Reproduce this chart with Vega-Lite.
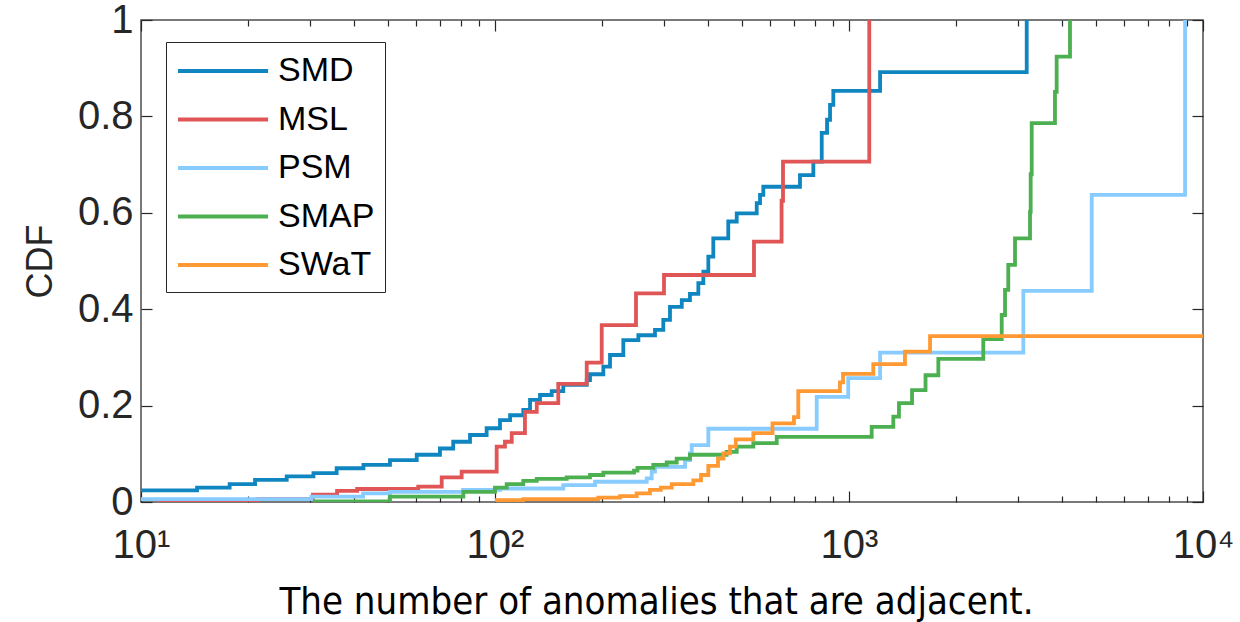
{
  "$schema": "https://vega.github.io/schema/vega-lite/v6.json",
  "width": 1062,
  "height": 482,
  "autosize": {"type": "none"},
  "padding": {"left": 141, "top": 20, "right": 37, "bottom": 120},
  "background": "white",
  "data": {"values": [
    {"s":"SMD","n":10,"c":0.024},{"s":"SMD","n":14.4,"c":0.030},{"s":"SMD","n":17.8,"c":0.037},{"s":"SMD","n":21,"c":0.046},{"s":"SMD","n":25.8,"c":0.053},{"s":"SMD","n":30.7,"c":0.060},{"s":"SMD","n":35.7,"c":0.070},{"s":"SMD","n":42.5,"c":0.077},{"s":"SMD","n":50.5,"c":0.087},{"s":"SMD","n":60.1,"c":0.098},{"s":"SMD","n":69.9,"c":0.111},{"s":"SMD","n":76.2,"c":0.125},{"s":"SMD","n":85,"c":0.139},{"s":"SMD","n":94.7,"c":0.153},{"s":"SMD","n":103.3,"c":0.170},{"s":"SMD","n":110.3,"c":0.180},{"s":"SMD","n":120.2,"c":0.191},{"s":"SMD","n":125.6,"c":0.212},{"s":"SMD","n":134,"c":0.222},{"s":"SMD","n":144.6,"c":0.230},{"s":"SMD","n":155.9,"c":0.243},{"s":"SMD","n":181.6,"c":0.253},{"s":"SMD","n":185.5,"c":0.265},{"s":"SMD","n":202.3,"c":0.281},{"s":"SMD","n":211.3,"c":0.305},{"s":"SMD","n":230.4,"c":0.336},{"s":"SMD","n":254.1,"c":0.346},{"s":"SMD","n":283.1,"c":0.357},{"s":"SMD","n":298.8,"c":0.378},{"s":"SMD","n":312.1,"c":0.405},{"s":"SMD","n":337,"c":0.419},{"s":"SMD","n":355.4,"c":0.432},{"s":"SMD","n":375.3,"c":0.454},{"s":"SMD","n":387.7,"c":0.478},{"s":"SMD","n":400.5,"c":0.509},{"s":"SMD","n":413.7,"c":0.547},{"s":"SMD","n":456,"c":0.582},{"s":"SMD","n":481.8,"c":0.599},{"s":"SMD","n":548.7,"c":0.620},{"s":"SMD","n":560.6,"c":0.637},{"s":"SMD","n":572.7,"c":0.654},{"s":"SMD","n":727,"c":0.678},{"s":"SMD","n":793,"c":0.706},{"s":"SMD","n":837.5,"c":0.766},{"s":"SMD","n":867,"c":0.793},{"s":"SMD","n":884,"c":0.824},{"s":"SMD","n":903,"c":0.853},{"s":"SMD","n":1224,"c":0.892},{"s":"SMD","n":3177,"c":1.0},
    {"s":"MSL","n":11.1,"c":0.002},{"s":"MSL","n":21.3,"c":0.006},{"s":"MSL","n":30.6,"c":0.015},{"s":"MSL","n":35.8,"c":0.023},{"s":"MSL","n":40.8,"c":0.027},{"s":"MSL","n":60.7,"c":0.032},{"s":"MSL","n":70.7,"c":0.051},{"s":"MSL","n":80.5,"c":0.063},{"s":"MSL","n":101.1,"c":0.115},{"s":"MSL","n":106.7,"c":0.125},{"s":"MSL","n":111.5,"c":0.143},{"s":"MSL","n":121.5,"c":0.187},{"s":"MSL","n":131.2,"c":0.205},{"s":"MSL","n":150.9,"c":0.245},{"s":"MSL","n":181.6,"c":0.289},{"s":"MSL","n":200.2,"c":0.367},{"s":"MSL","n":250.2,"c":0.433},{"s":"MSL","n":300.2,"c":0.471},{"s":"MSL","n":539,"c":0.540},{"s":"MSL","n":645,"c":0.625},{"s":"MSL","n":651,"c":0.706},{"s":"MSL","n":1141,"c":1.0},
    {"s":"PSM","n":10,"c":0.006},{"s":"PSM","n":30.3,"c":0.011},{"s":"PSM","n":42.4,"c":0.018},{"s":"PSM","n":50.5,"c":0.021},{"s":"PSM","n":81.2,"c":0.025},{"s":"PSM","n":103.3,"c":0.028},{"s":"PSM","n":155.9,"c":0.035},{"s":"PSM","n":191.7,"c":0.042},{"s":"PSM","n":268.3,"c":0.049},{"s":"PSM","n":277.1,"c":0.063},{"s":"PSM","n":283.1,"c":0.073},{"s":"PSM","n":344.2,"c":0.087},{"s":"PSM","n":355.4,"c":0.101},{"s":"PSM","n":359.4,"c":0.118},{"s":"PSM","n":400.5,"c":0.152},{"s":"PSM","n":810.5,"c":0.218},{"s":"PSM","n":995,"c":0.257},{"s":"PSM","n":1224,"c":0.310},{"s":"PSM","n":3108,"c":0.438},{"s":"PSM","n":4849,"c":0.637},{"s":"PSM","n":8898,"c":1.0},
    {"s":"SMAP","n":30.7,"c":0.001},{"s":"SMAP","n":50.5,"c":0.011},{"s":"SMAP","n":81.4,"c":0.021},{"s":"SMAP","n":100,"c":0.030},{"s":"SMAP","n":107.9,"c":0.037},{"s":"SMAP","n":120.2,"c":0.044},{"s":"SMAP","n":131.2,"c":0.048},{"s":"SMAP","n":159.4,"c":0.051},{"s":"SMAP","n":185.5,"c":0.056},{"s":"SMAP","n":202.3,"c":0.061},{"s":"SMAP","n":247,"c":0.065},{"s":"SMAP","n":252.6,"c":0.071},{"s":"SMAP","n":280,"c":0.077},{"s":"SMAP","n":305.5,"c":0.082},{"s":"SMAP","n":326,"c":0.090},{"s":"SMAP","n":355.4,"c":0.098},{"s":"SMAP","n":451,"c":0.104},{"s":"SMAP","n":481.8,"c":0.115},{"s":"SMAP","n":536.7,"c":0.122},{"s":"SMAP","n":625,"c":0.135},{"s":"SMAP","n":1159,"c":0.156},{"s":"SMAP","n":1334,"c":0.177},{"s":"SMAP","n":1384,"c":0.205},{"s":"SMAP","n":1507,"c":0.232},{"s":"SMAP","n":1645,"c":0.263},{"s":"SMAP","n":1788,"c":0.297},{"s":"SMAP","n":2395,"c":0.338},{"s":"SMAP","n":2700,"c":0.388},{"s":"SMAP","n":2759,"c":0.440},{"s":"SMAP","n":2818,"c":0.492},{"s":"SMAP","n":2944,"c":0.547},{"s":"SMAP","n":3246,"c":0.602},{"s":"SMAP","n":3260,"c":0.680},{"s":"SMAP","n":3282,"c":0.786},{"s":"SMAP","n":3818,"c":0.851},{"s":"SMAP","n":3860,"c":0.924},{"s":"SMAP","n":4210,"c":1.0},
    {"s":"SWaT","n":100,"c":0.004},{"s":"SWaT","n":120.2,"c":0.006},{"s":"SWaT","n":195.8,"c":0.009},{"s":"SWaT","n":225.5,"c":0.012},{"s":"SWaT","n":251.3,"c":0.018},{"s":"SWaT","n":274,"c":0.025},{"s":"SWaT","n":294,"c":0.030},{"s":"SWaT","n":315.6,"c":0.037},{"s":"SWaT","n":363.3,"c":0.045},{"s":"SWaT","n":381.9,"c":0.056},{"s":"SWaT","n":400.5,"c":0.075},{"s":"SWaT","n":426.6,"c":0.090},{"s":"SWaT","n":441.6,"c":0.101},{"s":"SWaT","n":461.2,"c":0.115},{"s":"SWaT","n":478.8,"c":0.130},{"s":"SWaT","n":536.7,"c":0.143},{"s":"SWaT","n":608,"c":0.163},{"s":"SWaT","n":699,"c":0.176},{"s":"SWaT","n":719,"c":0.230},{"s":"SWaT","n":943,"c":0.248},{"s":"SWaT","n":962,"c":0.266},{"s":"SWaT","n":1171,"c":0.286},{"s":"SWaT","n":1439,"c":0.312},{"s":"SWaT","n":1694,"c":0.344},{"s":"SWaT","n":10000,"c":0.344}
  ]},
  "layer": [
    {
      "mark": {"type": "line", "interpolate": "step-after", "strokeWidth": 3.8, "clip": true},
      "encoding": {
        "x": {"field": "n", "type": "quantitative",
          "scale": {"type": "log", "domain": [10, 10000], "nice": false},
          "axis": {"orient": "bottom", "title": "The number of anomalies that are adjacent.",
            "values": [10,20,30,40,50,60,70,80,90,100,200,300,400,500,600,700,800,900,1000,2000,3000,4000,5000,6000,7000,8000,9000,10000],
            "labelExpr": "datum.value==10?'10¹':datum.value==100?'10²':datum.value==1000?'10³':datum.value==10000?'10⁴':''",
            "tickSize": {"condition": {"test": "datum.value==10||datum.value==100||datum.value==1000||datum.value==10000", "value": -11}, "value": -6},
            "labelPadding": 34, "labelOverlap": false, "labelFlush": false,
            "titleX": 515, "titleAlign": "center", "titleY": 111, "titleBaseline": "alphabetic",
            "titleFont": "DejaVu Sans Condensed, sans-serif", "titleFontSize": 38, "titleFontWeight": "normal", "titleColor": "#000000"}},
        "y": {"field": "c", "type": "quantitative",
          "scale": {"domain": [0, 1], "nice": false},
          "axis": {"orient": "left", "title": "CDF", "values": [0,0.2,0.4,0.6,0.8,1], "format": "~g",
            "tickSize": -11, "labelPadding": 19,
            "titleX": -90, "titleBaseline": "alphabetic", "titleAngle": -90,
            "titleFont": "Liberation Sans", "titleFontSize": 36, "titleFontWeight": "normal", "titleColor": "#262626"}},
        "color": {"field": "s", "type": "nominal",
          "scale": {"domain": ["SMD","MSL","PSM","SMAP","SWaT"], "range": ["#0F86C0","#E05555","#88CCFF","#4CAF50","#FF9933"]},
          "legend": {"orient": "none", "legendX": 25, "legendY": 22, "title": null,
            "symbolType": "M-1,0H4.3", "symbolSize": 1156, "symbolStrokeWidth": 3.8, "symbolFillColor": "transparent",
            "labelFont": "Liberation Sans", "labelFontSize": 34, "labelColor": "#000000", "labelOffset": 64,
            "padding": 10, "rowPadding": 12.5, "strokeColor": "#262626", "fillColor": "white"}}
      }
    },
    {
      "mark": {"type": "line", "opacity": 0},
      "encoding": {
        "x": {"field": "n", "type": "quantitative",
          "scale": {"type": "log", "domain": [10, 10000], "nice": false},
          "axis": {"orient": "top", "title": null, "labels": false,
            "values": [10,20,30,40,50,60,70,80,90,100,200,300,400,500,600,700,800,900,1000,2000,3000,4000,5000,6000,7000,8000,9000,10000],
            "tickSize": {"condition": {"test": "datum.value==10||datum.value==100||datum.value==1000||datum.value==10000", "value": -11}, "value": -6}}},
        "y": {"field": "c", "type": "quantitative",
          "scale": {"domain": [0, 1], "nice": false},
          "axis": {"orient": "right", "title": null, "labels": false, "values": [0,0.2,0.4,0.6,0.8,1], "tickSize": -11}},
        "detail": {"field": "s"}
      }
    }
  ],
  "resolve": {"axis": {"x": "independent", "y": "independent"}},
  "config": {
    "view": {"stroke": "#4d4d4d", "strokeWidth": 1.5},
    "axis": {"domain": false, "grid": false, "tickColor": "#262626", "tickWidth": 1.2,
      "labelFont": "Liberation Sans", "labelFontSize": 40, "labelColor": "#262626"}
  }
}
